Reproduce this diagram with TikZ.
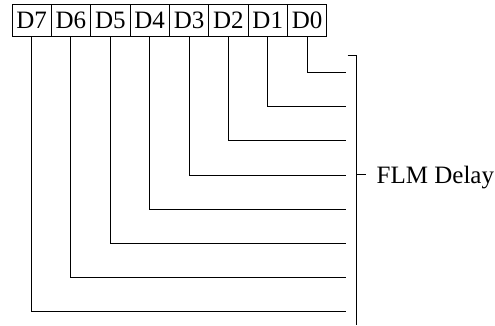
\documentclass[tikz,border=0pt]{standalone}
\usepackage{fontspec}
\setmainfont{Liberation Serif}
\begin{document}
\begin{tikzpicture}[x=1pt,y=-1pt,
  bit/.style={draw,line width=0.9pt,minimum width=39.35pt,minimum height=32pt,inner sep=0pt,font=\fontsize{25}{25}\selectfont,anchor=north west},
  wire/.style={line width=1pt},
  lbl/.style={inner sep=0pt,font=\fontsize{25}{25}\selectfont,anchor=base west}]
\useasboundingbox (0,0) rectangle (495,325);
\foreach \k in {0,...,7} {
  \pgfmathtruncatemacro\b{7-\k}
  \node[bit] (d\b) at ({11.5+39.35*\k},4) {D\b};
}
\foreach \b in {0,...,7} {
  \coordinate (e\b) at (345.7,{72.5+34.2*\b});
  \draw[wire] (d\b.south) |- (e\b);
}
\coordinate (tt) at (347.7,55);
\coordinate (bt) at (356,55);
\coordinate (bb) at (356,325);
\draw[wire] (tt) -- (bt) -- (bb);
\coordinate (tk) at (366,174.7);
\draw[wire] (bt |- tk) -- (tk);
\node[lbl] (flm) at (376.5,183.3) {FLM Delay};
\end{tikzpicture}
\end{document}
